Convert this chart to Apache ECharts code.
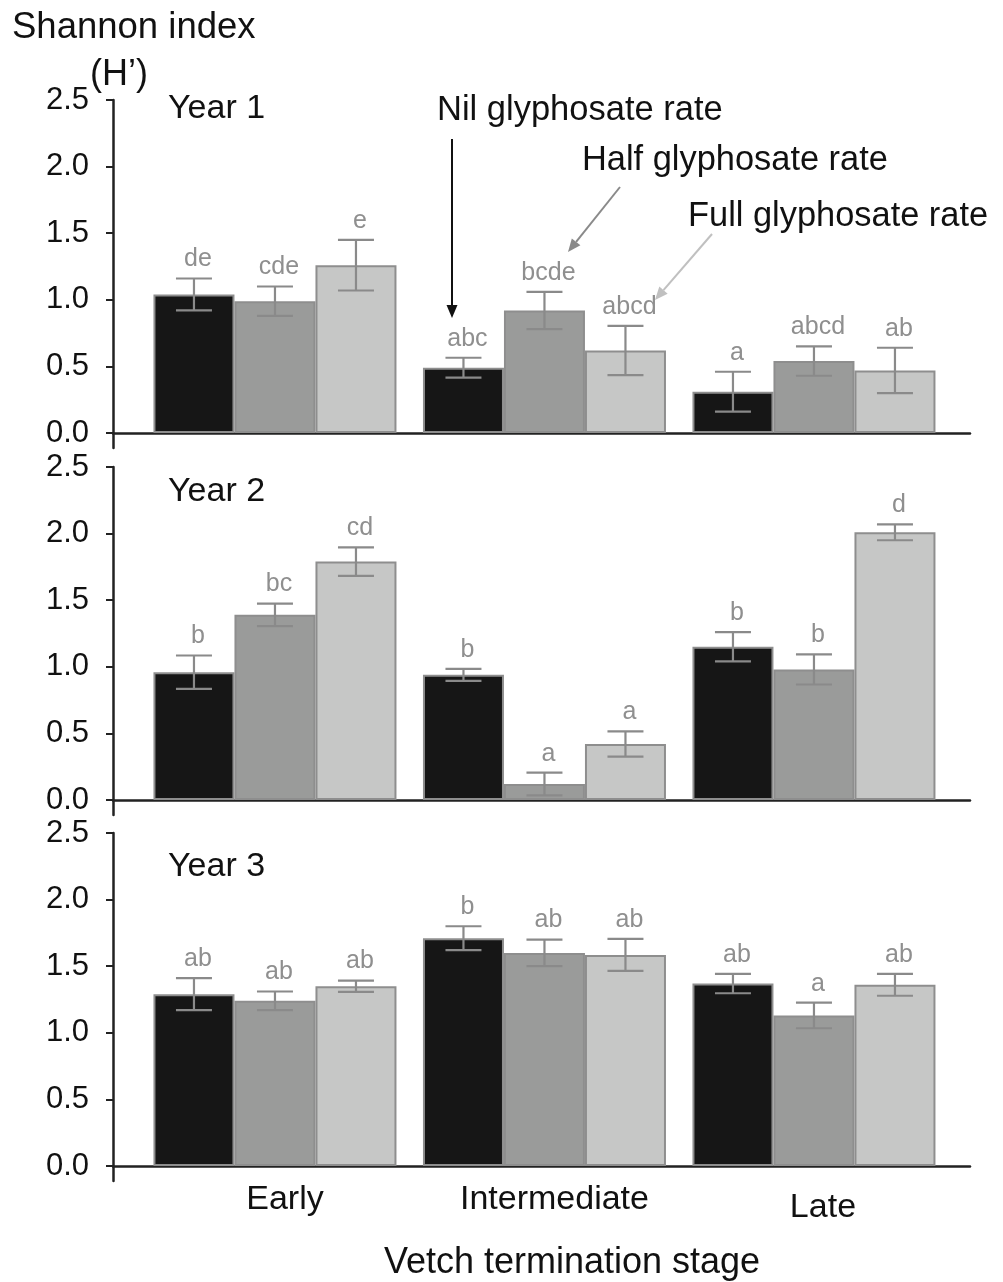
<!DOCTYPE html>
<html><head><meta charset="utf-8">
<script src="https://cdn.jsdelivr.net/npm/echarts@6/dist/echarts.min.js"></script>
<style>html,body{margin:0;padding:0;background:#fff}#c{width:1003px;height:1282px}</style>
</head><body><div id="c"></div>
<script>
// ---- data ----
const categories = ['Early', 'Intermediate', 'Late'];
const treatments = ['Nil glyphosate rate', 'Half glyphosate rate', 'Full glyphosate rate'];
const years = ['Year 1', 'Year 2', 'Year 3'];
const yTicks = [0, 0.5, 1.0, 1.5, 2.0, 2.5];

const y1Nil  = [1.04, 0.49, 0.31];  const y1NilErr  = [0.12, 0.075, 0.15];
const y1Half = [0.99, 0.92, 0.54];  const y1HalfErr = [0.11, 0.14, 0.11];
const y1Full = [1.26, 0.62, 0.47];  const y1FullErr = [0.19, 0.185, 0.17];
const y1NilLet = ['de', 'abc', 'a'];
const y1HalfLet = ['cde', 'bcde', 'abcd'];
const y1FullLet = ['e', 'abcd', 'ab'];

const y2Nil  = [0.96, 0.94, 1.15];  const y2NilErr  = [0.125, 0.045, 0.11];
const y2Half = [1.39, 0.12, 0.98];  const y2HalfErr = [0.085, 0.085, 0.113];
const y2Full = [1.79, 0.42, 2.01];  const y2FullErr = [0.107, 0.095, 0.06];
const y2NilLet = ['b', 'b', 'b'];
const y2HalfLet = ['bc', 'a', 'b'];
const y2FullLet = ['cd', 'a', 'd'];

const y3Nil  = [1.29, 1.71, 1.37];  const y3NilErr  = [0.12, 0.09, 0.073];
const y3Half = [1.24, 1.60, 1.13];  const y3HalfErr = [0.07, 0.10, 0.096];
const y3Full = [1.35, 1.585, 1.36]; const y3FullErr = [0.042, 0.12, 0.082];
const y3NilLet = ['ab', 'b', 'ab'];
const y3HalfLet = ['ab', 'ab', 'a'];
const y3FullLet = ['ab', 'ab', 'ab'];

// ---- build ----
const FONT = '"Liberation Sans", Arial, Helvetica, sans-serif';
const panels = [
  [[y1Nil, y1NilErr, y1NilLet], [y1Half, y1HalfErr, y1HalfLet], [y1Full, y1FullErr, y1FullLet]],
  [[y2Nil, y2NilErr, y2NilLet], [y2Half, y2HalfErr, y2HalfLet], [y2Full, y2FullErr, y2FullLet]],
  [[y3Nil, y3NilErr, y3NilLet], [y3Half, y3HalfErr, y3HalfLet], [y3Full, y3FullErr, y3FullLet]]
];
const fills = ['#161616', '#9a9b9a', '#c6c7c6'];
const BARW = 81;
const offsets = [-BARW, 0, BARW];
const tops = [100, 467, 833];

const grid = tops.map(t => ({ left: 113, right: 33, top: t, height: 348 }));
const yAxis = tops.map((t, p) => ({
  type: 'value', gridIndex: p, min: -0.1126, max: 2.5,
  axisLine: { show: true, onZero: false, lineStyle: { color: '#222', width: 2.5 } },
  axisTick: { show: true, customValues: yTicks, length: 7, lineStyle: { color: '#222', width: 2 } },
  axisLabel: { customValues: yTicks, formatter: v => v.toFixed(1), fontSize: 31, color: '#111', margin: 24, fontFamily: FONT },
  splitLine: { show: false }
}));
const xAxis = tops.map((t, p) => ({
  type: 'value', gridIndex: p, min: -0.601, max: 2.579,
  axisLine: { show: true, onZero: true, lineStyle: { color: '#222', width: 2.5 } },
  axisTick: { show: false },
  splitLine: { show: false },
  axisLabel: p < 2 ? { show: false } : {
    show: true, customValues: [0, 1, 2], margin: 2,
    formatter: v => { const i = Math.round(v); return i === 2 ? '{late|' + categories[i] + '}' : '{cat|' + categories[i] + '}'; },
    rich: {
      cat: { fontSize: 34, fontFamily: FONT, color: '#111', padding: [0, 0, 0, 20] },
      late: { fontSize: 34, fontFamily: FONT, color: '#111', padding: [8, 0, 0, 18] }
    }
  }
}));

const series = [];
panels.forEach((panel, p) => {
  panel.forEach(([vals, errs, lets], t) => {
    series.push({
      type: 'bar', name: treatments[t], xAxisIndex: p, yAxisIndex: p,
      barWidth: BARW, barGap: '0%',
      data: vals.map((v, i) => [i, v]),
      itemStyle: { color: fills[t], borderColor: '#8e8e8e', borderWidth: 2 },
      z: 2
    });
  });
  panel.forEach(([vals, errs, lets], t) => {
    const off = offsets[t];
    series.push({
      type: 'custom', xAxisIndex: p, yAxisIndex: p, z: 5, clip: false,
      data: vals.map((v, i) => [i, v - errs[i], v + errs[i]]),
      renderItem: (params, api) => {
        const i = api.value(0);
        const pt = api.coord([i, api.value(2)]);
        const pb = api.coord([i, api.value(1)]);
        const x = pt[0] + off;
        const st = { stroke: '#8a8a8a', lineWidth: 2.2 };
        const cw = 18;
        return {
          type: 'group', children: [
            { type: 'line', shape: { x1: x, y1: pt[1], x2: x, y2: pb[1] }, style: st },
            { type: 'line', shape: { x1: x - cw, y1: pt[1], x2: x + cw, y2: pt[1] }, style: st },
            { type: 'line', shape: { x1: x - cw, y1: pb[1], x2: x + cw, y2: pb[1] }, style: st },
            { type: 'text', style: { text: lets[params.dataIndex], x: x + 4, y: pt[1] - 19, align: 'center', verticalAlign: 'middle', fill: '#8f8f8f', font: '25px ' + FONT } }
          ]
        };
      }
    });
  });
});

function arrow(x1, y1, x2, y2, color) {
  const a = Math.atan2(y2 - y1, x2 - x1), hl = 13, hw = 5.5;
  const bx = x2 - hl * Math.cos(a), by = y2 - hl * Math.sin(a);
  const px = -Math.sin(a) * hw, py = Math.cos(a) * hw;
  return [
    { type: 'line', shape: { x1, y1, x2: bx, y2: by }, style: { stroke: color, lineWidth: 2 } },
    { type: 'polygon', shape: { points: [[x2, y2], [bx + px, by + py], [bx - px, by - py]] }, style: { fill: color } }
  ];
}
function txt(s, x, y, size, color) {
  return { type: 'text', style: { text: s, x, y, fill: color || '#111', font: size + 'px ' + FONT, verticalAlign: 'middle', align: 'left' }, z: 10 };
}

const graphic = [
  txt('Shannon index', 12, 28, 36.5),
  txt('(H’)', 90, 75, 36),
  txt(years[0], 168, 109, 34),
  txt(years[1], 168, 492, 34),
  txt(years[2], 168, 867, 34),
  txt(treatments[0], 437, 110, 34.5),
  txt(treatments[1], 582, 161, 34.4),
  txt(treatments[2], 688, 217, 34.4),
  { type: 'text', style: { text: 'Vetch termination stage', x: 572, y: 1263, fill: '#111', font: '36px ' + FONT, align: 'center', verticalAlign: 'middle' } },
  ...arrow(452, 139, 452, 318, '#111'),
  ...arrow(620, 187, 568, 252, '#8a8a8a'),
  ...arrow(712, 234, 655, 300, '#c0c0c0')
];

const chart = echarts.init(document.getElementById('c'), null, { renderer: 'canvas' });
chart.setOption({ animation: false, backgroundColor: '#fff', grid, xAxis, yAxis, series, graphic });
</script></body></html>
